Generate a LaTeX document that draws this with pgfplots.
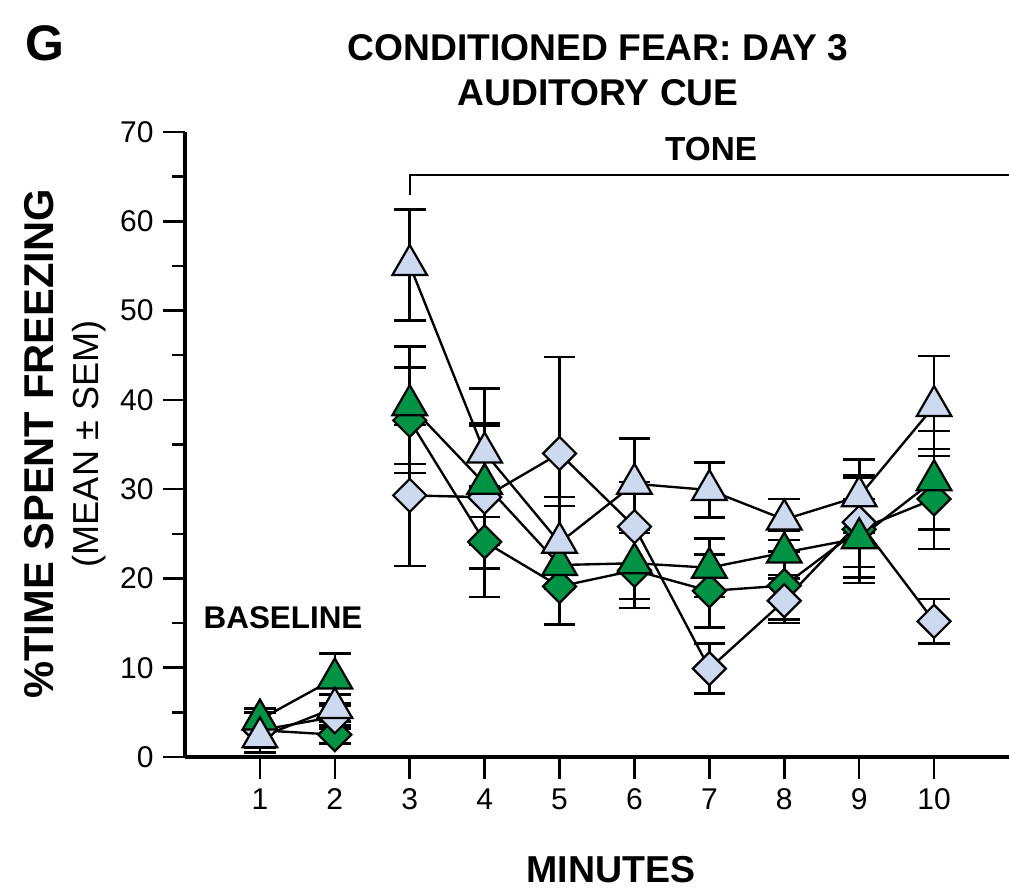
\documentclass[border=0pt]{standalone}
\usepackage{pgfplots}
\pgfplotsset{compat=1.18}
\usepackage{pgfplotstable}
\usepackage{fontspec}
\setmainfont{Liberation Sans}
\definecolor{fgreen}{RGB}{0,146,69}
\definecolor{lblue}{RGB}{205,217,239}

% light blue triangles
\pgfplotstableread{
x y e
1 2.2 1.0
2 5.5 1.5
}\lbtriA
\pgfplotstableread{
x y e
3 55.1 6.2
4 34.1 7.2
5 24.0 5.1
6 30.6 5.1
7 29.9 3.1
8 26.6 2.3
9 29.2 4.1
10 39.3 5.6
}\lbtriB
% green triangles
\pgfplotstableread{
x y e
1 4.2 1.2
2 8.8 2.8
}\gtriA
\pgfplotstableread{
x y e
3 39.4 6.6
4 30.6 6.8
5 21.5 6.6
6 21.7 4.0
7 21.2 3.3
8 22.9 2.5
9 24.5 4.4
10 31.0 5.5
}\gtriB
% green diamonds
\pgfplotstableread{
x y e
1 3.0 2.5
2 2.5 1.0
}\gdiaA
\pgfplotstableread{
x y e
3 37.7 5.9
4 24.1 6.2
5 19.1 4.3
6 20.9 4.2
7 18.6 4.1
8 19.2 3.8
9 25.5 6.0
10 28.9 5.6
}\gdiaB
% light blue diamonds
\pgfplotstableread{
x y e
1 3.0 2.0
2 4.5 1.3
}\lbdiaA
\pgfplotstableread{
x y e
3 29.3 7.9
4 29.1 8.0
5 34.0 10.8
6 25.8 5.0
7 9.9 2.8
8 17.5 2.5
9 26.3 5.0
10 15.2 2.5
}\lbdiaB

\pgfplotsset{
  ser/.style={black, line width=0.85pt,
    error bars/y dir=both, error bars/y explicit,
    error bars/error bar style={line width=0.95pt, black},
    error bars/error mark options={rotate=90, mark size=5.7pt, line width=0.95pt, black}},
  tri/.style={ser, mark=triangle*, mark size=7.2pt,
    mark options={fill=#1, draw=black, line width=0.8pt, rotate=0}},
  dia/.style={ser, mark=square*, mark size=4.2pt,
    mark options={fill=#1, draw=black, line width=0.8pt, rotate=45}},
}

\begin{document}
\begin{tikzpicture}
\useasboundingbox (-66.6pt,-48.24pt) rectangle (296.64pt,272.52pt);
\begin{axis}[
  at={(0pt,0pt)}, anchor=south west,
  scale only axis, width=296.64pt, height=225pt,
  xmin=0, xmax=11, ymin=0, ymax=70,
  axis x line*=bottom, axis y line*=left,
  axis line style={line width=1.1pt, -},
  xtick={1,...,10}, ytick={0,10,...,70}, minor y tick num=1,
  tick align=outside, major tick length=7.8pt, minor tick length=4.5pt,
  tick style={line width=0.9pt, black},
  ticklabel style={font=\fontsize{10.8}{12}\selectfont},
  /pgf/number format/assume math mode=true,
  clip=false,
]
\addplot[dia=fgreen] table[x=x,y=y,y error=e] {\gdiaA};
\addplot[dia=fgreen] table[x=x,y=y,y error=e] {\gdiaB};
\addplot[dia=lblue] table[x=x,y=y,y error=e] {\lbdiaA};
\addplot[dia=lblue] table[x=x,y=y,y error=e] {\lbdiaB};
\addplot[tri=fgreen] table[x=x,y=y,y error=e] {\gtriA};
\addplot[tri=fgreen] table[x=x,y=y,y error=e] {\gtriB};
\addplot[tri=lblue] table[x=x,y=y,y error=e] {\lbtriA};
\addplot[tri=lblue] table[x=x,y=y,y error=e] {\lbtriB};
\draw[line width=0.8pt] (axis cs:3,62.9) -- (axis cs:3,65.2) -- (axis cs:11,65.2);
\end{axis}
\node[anchor=base west, inner sep=0pt, font=\bfseries\fontsize{18}{20}\selectfont] at (-57.6pt,250.9pt) {G};
\node[anchor=base, inner sep=0pt, font=\bfseries\fontsize{13.4}{16}\selectfont] at (148.7pt,250.9pt) {CONDITIONED FEAR: DAY 3};
\node[anchor=base, inner sep=0pt, font=\bfseries\fontsize{13.4}{16}\selectfont] at (148.7pt,234.7pt) {AUDITORY CUE};
\node[anchor=base, inner sep=0pt, font=\bfseries\fontsize{12}{14}\selectfont] at (189.4pt,214.9pt) {TONE};
\node[anchor=base, inner sep=0pt, font=\bfseries\fontsize{11.3}{14}\selectfont] at (35.3pt,46.4pt) {BASELINE};
\node[anchor=base, inner sep=0pt, font=\bfseries\fontsize{13.5}{16}\selectfont] at (153.4pt,-45pt) {MINUTES};
\node[anchor=base, inner sep=0pt, rotate=90, font=\bfseries\fontsize{15}{18}\selectfont] at (-47.5pt,112.7pt) {\%TIME SPENT FREEZING};
\node[anchor=base, inner sep=0pt, rotate=90, font=\fontsize{13}{16}\selectfont] at (-31.3pt,112.7pt) {(MEAN ± SEM)};
\end{tikzpicture}
\end{document}
